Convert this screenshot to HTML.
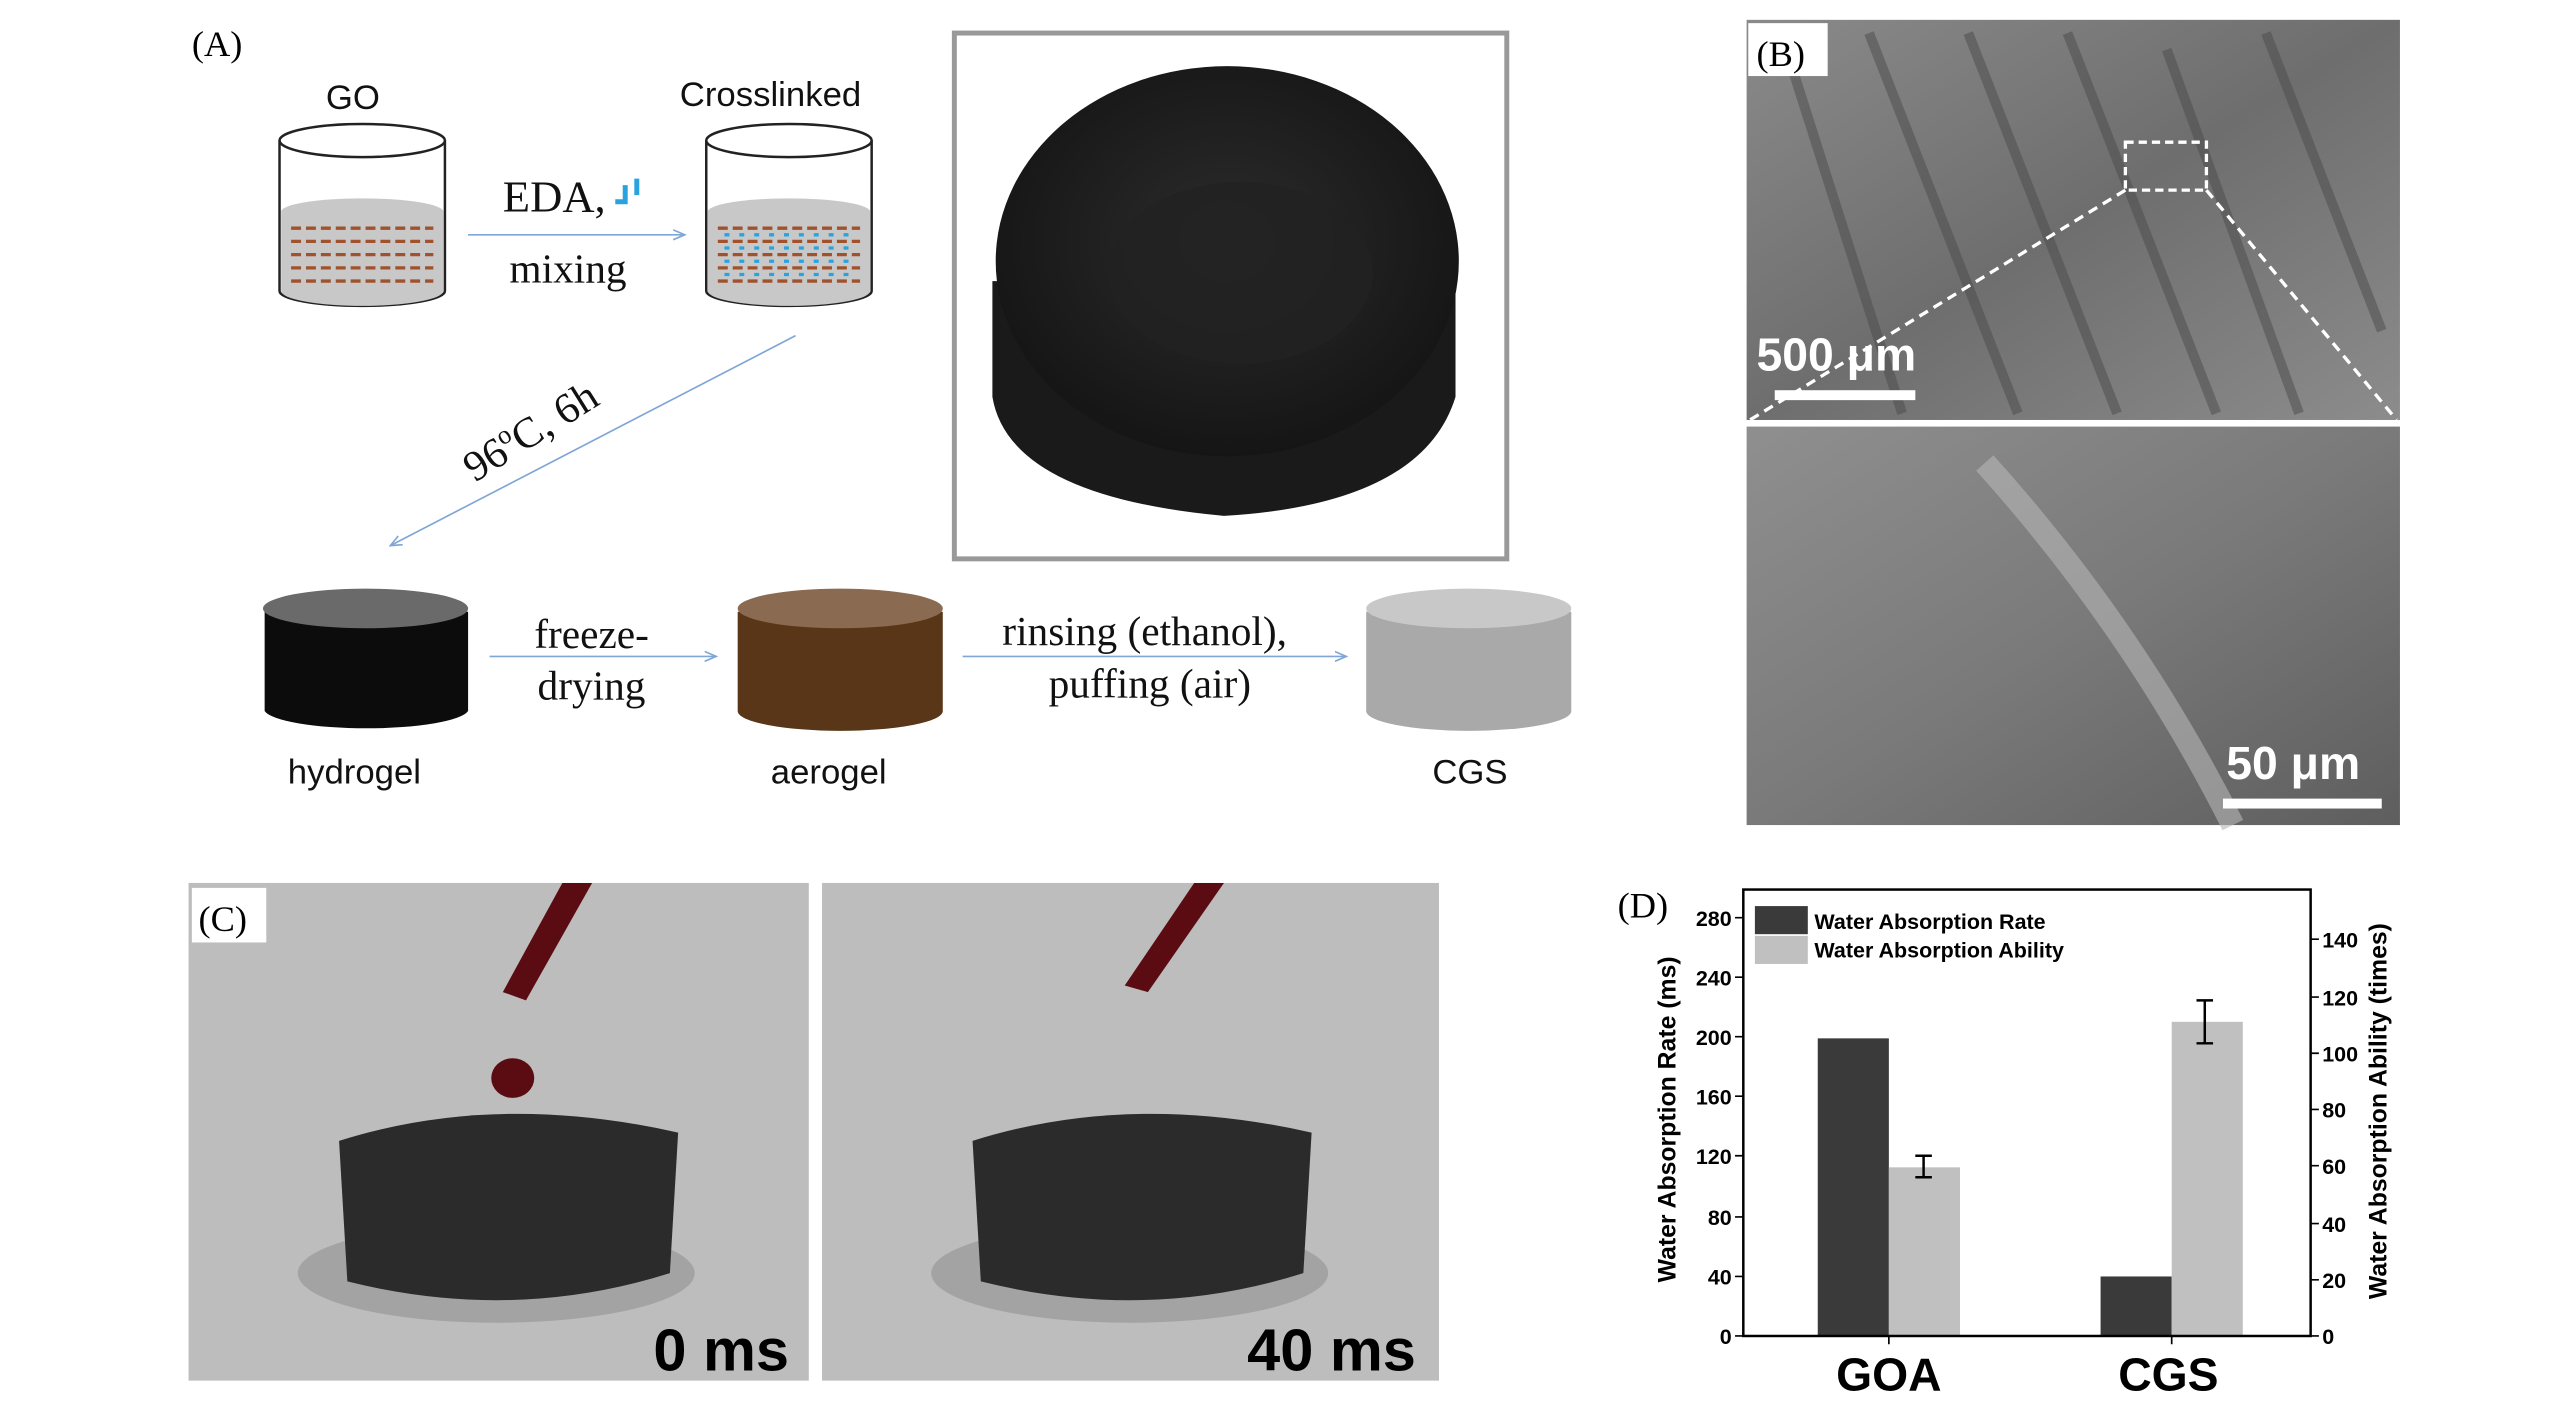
<!DOCTYPE html>
<html><head><meta charset="utf-8"><style>html,body{margin:0;padding:0;background:#fff}svg{display:block}</style></head>
<body>
<svg width="2567" height="1417" viewBox="0 0 1552 857" preserveAspectRatio="none" xmlns="http://www.w3.org/2000/svg">
<defs>
<marker id="ar" markerWidth="8" markerHeight="8" refX="7" refY="4" orient="auto"><path d="M0,1 L7,4 L0,7" fill="none" stroke="#7fa6d6" stroke-width="1"/></marker>
<radialGradient id="blob" cx="50%" cy="45%" r="55%"><stop offset="0" stop-color="#2c2c2c"/><stop offset="1" stop-color="#151515"/></radialGradient>
<linearGradient id="sem1" x1="0" y1="0" x2="1" y2="1"><stop offset="0" stop-color="#8a8a8a"/><stop offset="0.5" stop-color="#6e6e6e"/><stop offset="1" stop-color="#8c8c8c"/></linearGradient>
<linearGradient id="sem2" x1="0" y1="0" x2="1" y2="1"><stop offset="0" stop-color="#8f8f8f"/><stop offset="0.5" stop-color="#7a7a7a"/><stop offset="1" stop-color="#5e5e5e"/></linearGradient>
</defs>
<g font-family="Liberation Serif, serif">
<text x="116" y="34" font-size="22">(A)</text>
</g>
<g font-family="Liberation Sans, sans-serif" font-size="21" fill="#111">
<text x="197" y="66">GO</text>
<text x="411" y="64">Crosslinked</text>
<text x="174" y="474">hydrogel</text>
<text x="466" y="474">aerogel</text>
<text x="866" y="474">CGS</text>
</g>
<g stroke="#222" stroke-width="1.5">
<path d="M169,85 L169,176 A50,9 0 0 0 269,176 L269,85" fill="#fff"/>
<path d="M170,128 A49,8 0 0 1 268,128 L268,176 A49,9 0 0 1 170,176 Z" fill="#c8c8c8" stroke="none"/>
<ellipse cx="219" cy="85" rx="50" ry="10" fill="none"/>
<path d="M427,85 L427,176 A50,9 0 0 0 527,176 L527,85" fill="#fff"/>
<path d="M428,128 A49,8 0 0 1 526,128 L526,176 A49,9 0 0 1 428,176 Z" fill="#c8c8c8" stroke="none"/>
<ellipse cx="477" cy="85" rx="50" ry="10" fill="none"/>
</g>
<g stroke="#a0522d" stroke-width="2" fill="none" stroke-dasharray="6 3">
<path d="M176,138h86M176,146h86M176,154h86M176,162h86M176,170h86"/>
<path d="M434,138h86M434,146h86M434,154h86M434,162h86M434,170h86"/>
</g>
<g stroke="#29a3e0" stroke-width="2" fill="none" stroke-dasharray="3 6"><path d="M438,142h80M438,150h80M438,158h80M438,166h80"/></g>
<line x1="283" y1="142" x2="414" y2="142" stroke="#7fa6d6" stroke-width="1" marker-end="url(#ar)"/>
<g font-family="Liberation Serif, serif" font-size="27" fill="#111">
<text x="304" y="128">EDA,</text>
<text x="308" y="171" font-size="25">mixing</text>
<text x="323" y="392" font-size="25">freeze-</text>
<text x="325" y="423" font-size="25">drying</text>
<text x="606" y="390" font-size="25">rinsing (ethanol),</text>
<text x="634" y="422" font-size="25">puffing (air)</text>
<text transform="translate(287,292) rotate(-32)" font-size="26">96<tspan font-size="16" dy="-10">o</tspan><tspan dy="10">C,  6h</tspan></text>
</g>
<path d="M378,112 v10 h-6 M385,108 v10" stroke="#29a3e0" stroke-width="3" fill="none"/>
<line x1="481" y1="203" x2="236" y2="330" stroke="#7fa6d6" stroke-width="1" marker-end="url(#ar)"/>
<line x1="296" y1="397" x2="433" y2="397" stroke="#7fa6d6" stroke-width="1" marker-end="url(#ar)"/>
<line x1="582" y1="397" x2="814" y2="397" stroke="#7fa6d6" stroke-width="1" marker-end="url(#ar)"/>
<path d="M160,370 L160,430 A62,12 0 0 0 283,430 L283,370 Z" fill="#0c0c0c"/>
<ellipse cx="221" cy="368" rx="62" ry="12" fill="#6a6a6a"/>
<path d="M446,370 L446,430 A62,12 0 0 0 570,430 L570,370 Z" fill="#5a3618"/>
<ellipse cx="508" cy="368" rx="62" ry="12" fill="#8a6a50"/>
<path d="M826,370 L826,430 A62,12 0 0 0 950,430 L950,370 Z" fill="#a9a9a9"/>
<ellipse cx="888" cy="368" rx="62" ry="12" fill="#c8c8c8"/>
<!-- photo -->
<rect x="577" y="20" width="334" height="318" fill="#fff" stroke="#999" stroke-width="3"/>
<path d="M600,170 L600,240 Q610,300 740,312 Q860,305 880,240 L880,170 Z" fill="#1a1a1a"/>
<ellipse cx="742" cy="158" rx="140" ry="118" fill="url(#blob)"/>
<ellipse cx="750" cy="165" rx="80" ry="55" fill="#222" opacity="0.8"/>
<!-- B -->
<rect x="1056" y="12" width="395" height="242" fill="url(#sem1)"/>
<rect x="1056" y="258" width="395" height="241" fill="url(#sem2)"/>
<g stroke="#4a4a4a" stroke-width="6" opacity="0.5" fill="none">
<path d="M1080,30 L1150,250 M1130,20 L1220,250 M1190,20 L1280,250 M1250,20 L1340,250 M1310,30 L1390,250 M1370,20 L1440,200"/>
</g>
<path d="M1200,280 Q1290,380 1350,499" stroke="#b5b5b5" stroke-width="14" fill="none" opacity="0.6"/>
<rect x="1057" y="14" width="48" height="32" fill="#fff"/>
<text x="1062" y="40" font-family="Liberation Serif, serif" font-size="22">(B)</text>
<rect x="1285" y="86" width="49" height="29" fill="none" stroke="#fff" stroke-width="2" stroke-dasharray="5 3"/>
<path d="M1285,115 L1058,254 M1334,115 L1449,254" stroke="#fff" stroke-width="2" stroke-dasharray="6 4"/>
<text x="1062" y="224" font-family="Liberation Sans, sans-serif" font-weight="bold" font-size="28" fill="#fff">500 μm</text>
<rect x="1073" y="236" width="85" height="6" fill="#fff"/>
<text x="1346" y="471" font-family="Liberation Sans, sans-serif" font-weight="bold" font-size="28" fill="#fff">50 μm</text>
<rect x="1344" y="483" width="96" height="6" fill="#fff"/>
<!-- C -->
<rect x="114" y="534" width="375" height="301" fill="#bdbdbd"/>
<rect x="497" y="534" width="373" height="301" fill="#bdbdbd"/>
<ellipse cx="300" cy="770" rx="120" ry="30" fill="#8a8a8a" opacity="0.5"/>
<ellipse cx="683" cy="770" rx="120" ry="30" fill="#8a8a8a" opacity="0.5"/>
<path d="M205,690 Q300,660 410,685 L405,770 Q310,800 210,775 Z" fill="#2b2b2b"/>
<path d="M588,690 Q683,660 793,685 L788,770 Q693,800 593,775 Z" fill="#2b2b2b"/>
<path d="M340,534 L358,534 L318,605 L304,600 Z" fill="#5a0c12"/>
<ellipse cx="310" cy="652" rx="13" ry="12" fill="#5a0c12"/>
<path d="M722,534 L740,534 L694,600 L680,596 Z" fill="#5a0c12"/>
<rect x="116" y="537" width="45" height="33" fill="#fff"/>
<text x="120" y="563" font-family="Liberation Serif, serif" font-size="22">(C)</text>
<g font-family="Liberation Sans, sans-serif" font-weight="bold" font-size="36" fill="#000">
<text x="395" y="829">0 ms</text>
<text x="754" y="829">40 ms</text>
</g>
<!-- D chart -->
<text x="978" y="555" font-family="Liberation Serif, serif" font-size="22">(D)</text>
<g font-family="Liberation Sans, sans-serif">
<rect x="1099" y="628" width="43" height="180" fill="#3a3a3a"/>
<rect x="1142" y="706" width="43" height="102" fill="#c0c0c0"/>
<rect x="1270" y="772" width="43" height="36" fill="#3a3a3a"/>
<rect x="1313" y="618" width="43" height="190" fill="#c0c0c0"/>
<g stroke="#000" stroke-width="1.5" fill="none">
<path d="M1163,699 v13 M1158,699 h10 M1158,712 h10"/>
<path d="M1333,605 v26 M1328,605 h10 M1328,631 h10"/>
<rect x="1054" y="538" width="343" height="270"/>
</g>
<g stroke="#000" stroke-width="1">
<path d="M1049,808h5M1049,772h5M1049,736h5M1049,699h5M1049,663h5M1049,627h5M1049,591h5M1049,555h5"/>
<path d="M1397,808h5M1397,774h5M1397,740h5M1397,705h5M1397,671h5M1397,637h5M1397,603h5M1397,568h5"/>
<path d="M1142,808v5M1313,808v5"/>
</g>
<g font-size="13" font-weight="bold" text-anchor="end">
<text x="1047" y="813">0</text><text x="1047" y="777">40</text><text x="1047" y="741">80</text><text x="1047" y="704">120</text><text x="1047" y="668">160</text><text x="1047" y="632">200</text><text x="1047" y="596">240</text><text x="1047" y="560">280</text>
</g>
<g font-size="13" font-weight="bold">
<text x="1404" y="813">0</text><text x="1404" y="779">20</text><text x="1404" y="745">40</text><text x="1404" y="710">60</text><text x="1404" y="676">80</text><text x="1404" y="642">100</text><text x="1404" y="608">120</text><text x="1404" y="573">140</text>
</g>
<text transform="translate(1013,677) rotate(-90)" text-anchor="middle" font-size="15" font-weight="bold">Water Absorption Rate (ms)</text>
<text transform="translate(1443,672) rotate(-90)" text-anchor="middle" font-size="15" font-weight="bold">Water Absorption Ability (times)</text>
<rect x="1061" y="548" width="32" height="17" fill="#3a3a3a"/>
<rect x="1061" y="566" width="32" height="17" fill="#c0c0c0"/>
<text x="1097" y="562" font-size="13" font-weight="bold">Water Absorption Rate</text>
<text x="1097" y="579" font-size="13" font-weight="bold">Water Absorption Ability</text>
<text x="1142" y="841" text-anchor="middle" font-size="28" font-weight="bold">GOA</text>
<text x="1311" y="841" text-anchor="middle" font-size="28" font-weight="bold">CGS</text>
</g>
</svg>
</body></html>
